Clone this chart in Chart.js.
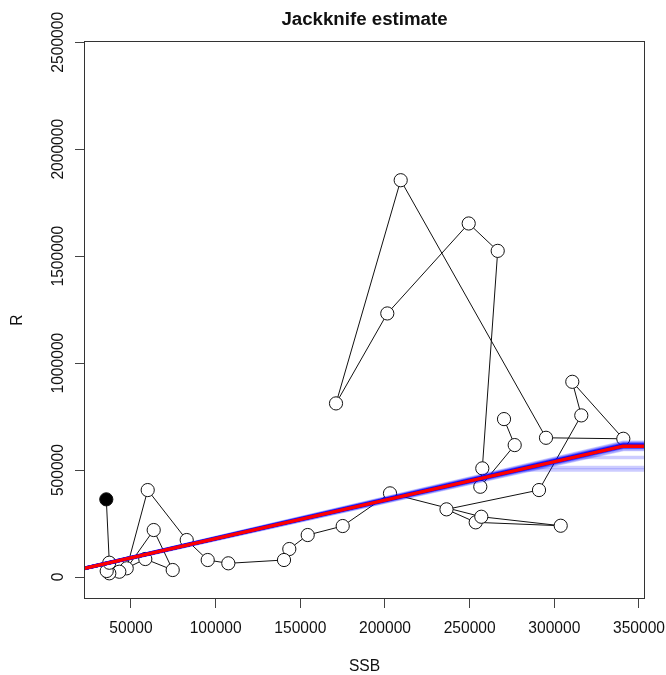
<!DOCTYPE html>
<html>
<head>
<meta charset="utf-8">
<title>Jackknife estimate</title>
<script src="https://cdn.jsdelivr.net/npm/chart.js@4/dist/chart.umd.min.js"></script>
<style>
  html, body { margin: 0; padding: 0; background: #ffffff; }
  #wrap { width: 666px; height: 675px; }
</style>
</head>
<body>
<div id="wrap"><canvas id="chart" width="666" height="675"></canvas></div>
<script>
// Spawning stock biomass and recruitment, one entry per year in time order
const ssb = [270290, 276600, 256290, 257470, 266570, 249440, 201370, 171080, 209280, 295090,
             340740, 310620, 315930, 290950, 236330, 253570, 303770, 256880, 202960, 175030,
             154360, 143500, 140370, 107480, 95310, 82910, 59880, 47480, 63420, 74640,
             58460, 43110, 37200, 35670, 37200, 35430];
const rec = [738300, 616800, 421960, 507950, 1524770, 1652810, 1232240, 811680, 1855140, 650930,
             646260, 912620, 755610, 406540, 316350, 255610, 239720, 281780, 391120, 238320,
             196260, 130840, 79440, 64020, 79440, 172900, 406540, 40650, 219630, 32710,
             84110, 24770, 17290, 28040, 66820, 363090];

// Segmented-regression (hockey stick) fit to all years
const fitSlope = 1.797;
const fitBreak = 340500;

// Leave-one-year-out refits
const jkSlope = [1.80, 1.79, 1.81, 1.80, 1.78, 1.82, 1.80, 1.79, 1.81, 1.80, 1.77, 1.83,
                 1.80, 1.79, 1.80, 1.81, 1.80, 1.76, 1.84, 1.80, 1.79, 1.81, 1.80, 1.80,
                 1.78, 1.82, 1.80, 1.79, 1.85, 1.80, 1.81, 1.80, 1.75, 1.80, 1.79, 1.80];
const jkBreak = [340740, 340740, 340740, 340740, 340740, 340740, 340740, 340740, 340740, 340740,
                 315930, 340740, 340740, 286000, 340740, 340740, 340740, 340740, 340740, 340740,
                 340740, 340740, 340740, 340740, 340740, 340740, 278000, 340740, 340740, 340740,
                 340740, 340740, 340740, 340740, 340740, 340740];

// Axis tick values
const xTicks = [50000, 100000, 150000, 200000, 250000, 300000, 350000];
const yTicks = [0, 500000, 1000000, 1500000, 2000000, 2500000];

const X_MIN = 22260, X_MAX = 353550, Y_MIN = -102800, Y_MAX = 2506000;
const FONT = '"Liberation Sans", Arial, Helvetica, sans-serif';

function hockeyStick(slope, brk) {
  const level = slope * brk;
  return [{ x: 0, y: 0 }, { x: brk, y: level }, { x: X_MAX + 20000, y: level }];
}

const observed = ssb.map((x, i) => ({ x: x, y: rec[i] }));
const lastIdx = observed.length - 1;

const datasets = [];
datasets.push({
  label: 'fit',
  data: hockeyStick(fitSlope, fitBreak),
  borderColor: '#ff0000',
  borderWidth: 3.5,
  pointRadius: 0,
  showLine: true,
  order: 0
});
jkSlope.forEach((s, i) => {
  datasets.push({
    label: 'jk' + i,
    data: hockeyStick(s, jkBreak[i]),
    borderColor: 'rgba(0,0,255,0.2)',
    borderWidth: 3.5,
    pointRadius: 0,
    showLine: true,
    order: 1
  });
});
datasets.push({
  label: 'observed',
  data: observed,
  borderColor: '#111111',
  borderWidth: 1,
  showLine: true,
  pointRadius: 6.6,
  pointBorderWidth: 1,
  pointBorderColor: '#111111',
  pointBackgroundColor: ctx => ctx.dataIndex === lastIdx ? '#000000' : '#ffffff',
  order: 2
});

// Frame, rotated y labels, main and axis titles
const decorations = {
  id: 'decorations',
  afterDatasetsDraw(chart) {
    const { ctx, chartArea: a, scales } = chart;
    ctx.save();
    ctx.strokeStyle = '#333333';
    ctx.lineWidth = 1;
    ctx.strokeRect(Math.round(a.left) + 0.5, Math.round(a.top) + 0.5,
                   Math.round(a.right - a.left) - 1, Math.round(a.bottom - a.top) - 1);

    ctx.fillStyle = '#111111';
    ctx.font = '15.6px ' + FONT;
    ctx.textAlign = 'center';
    ctx.textBaseline = 'alphabetic';
    yTicks.forEach(v => {
      const py = scales.y.getPixelForValue(v);
      ctx.save();
      ctx.translate(63, py);
      ctx.rotate(-Math.PI / 2);
      ctx.fillText(String(v), 0, 0);
      ctx.restore();
    });

    const cx = (a.left + a.right) / 2;
    const cy = (a.top + a.bottom) / 2;
    ctx.textBaseline = 'middle';
    ctx.fillText('SSB', cx, 667);
    ctx.save();
    ctx.translate(18, cy);
    ctx.rotate(-Math.PI / 2);
    ctx.fillText('R', 0, 0);
    ctx.restore();

    ctx.font = 'bold 18.7px ' + FONT;
    ctx.fillText('Jackknife estimate', cx, 20);
    ctx.restore();
  }
};

new Chart(document.getElementById('chart'), {
  type: 'scatter',
  data: { datasets },
  options: {
    responsive: false,
    devicePixelRatio: 1,
    animation: false,
    layout: { padding: { top: 41, right: 21, left: 0, bottom: 0 } },
    plugins: { legend: { display: false }, tooltip: { enabled: false }, title: { display: false } },
    scales: {
      x: {
        type: 'linear',
        min: X_MIN,
        max: X_MAX,
        afterBuildTicks: s => { s.ticks = xTicks.map(v => ({ value: v })); },
        afterFit: s => { s.height = 76; s.paddingLeft = 0; s.paddingRight = 0; },
        ticks: {
          autoSkip: false,
          maxRotation: 0,
          minRotation: 0,
          padding: 11,
          color: '#111111',
          font: { family: FONT, size: 15.6 },
          callback: v => String(v)
        },
        grid: { drawOnChartArea: false, drawTicks: true, tickLength: 9, color: '#444444', lineWidth: 1 },
        border: { display: false }
      },
      y: {
        type: 'linear',
        min: Y_MIN,
        max: Y_MAX,
        afterBuildTicks: s => { s.ticks = yTicks.map(v => ({ value: v })); },
        afterFit: s => { s.width = 84; s.paddingTop = 0; s.paddingBottom = 0; },
        ticks: { display: false },
        grid: { drawOnChartArea: false, drawTicks: true, tickLength: 9, color: '#444444', lineWidth: 1 },
        border: { display: false }
      }
    }
  },
  plugins: [decorations]
});
</script>
</body>
</html>
